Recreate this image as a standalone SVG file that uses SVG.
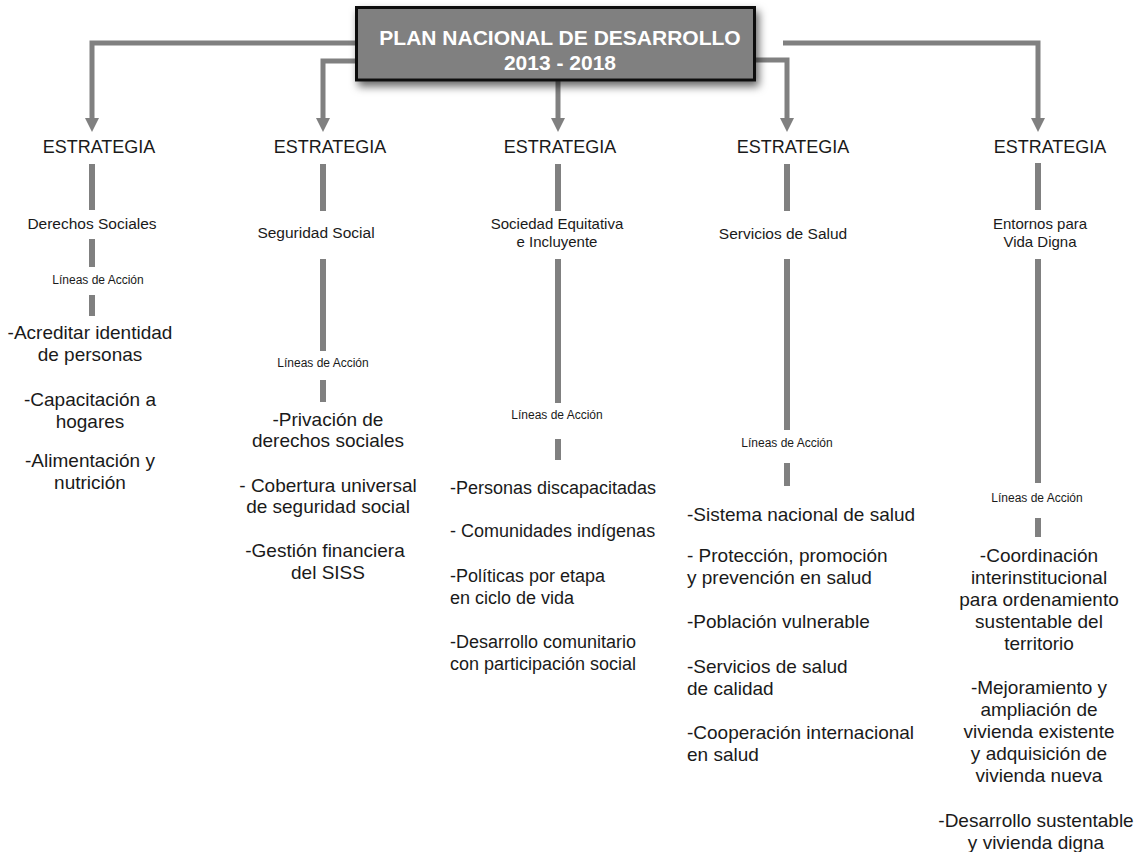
<svg xmlns="http://www.w3.org/2000/svg" width="1142" height="852" viewBox="0 0 1142 852">
  <style>
    .t { font-family: "Liberation Sans", Arial, sans-serif; fill: #1a1a1a; }
    .c { text-anchor: middle; }
    .head { font-size: 18px; }
    .sub { font-size: 15.5px; }
    .la { font-size: 12px; }
    .item { font-size: 19px; }
    .item3 { font-size: 18px; }
    .title { font-family: "Liberation Sans", Arial, sans-serif; font-weight: bold; font-size: 21px; fill: #ffffff; text-anchor: middle; }
    .wire { fill: none; stroke: #808080; stroke-width: 5; }
    .bar { stroke: #808080; stroke-width: 6; }
  </style>
  <defs>
    <marker id="arrow" viewBox="0 0 14 14" refX="0" refY="7" markerWidth="14" markerHeight="14" markerUnits="userSpaceOnUse" orient="auto">
      <path d="M0,0 L14,7 L0,14 z" fill="#808080"/>
    </marker>
    <filter id="shadow" x="-10%" y="-30%" width="125%" height="180%">
      <feDropShadow dx="3" dy="5" stdDeviation="4" flood-color="#000" flood-opacity="0.6"/>
    </filter>
  </defs>

  <rect width="1142" height="852" fill="#ffffff"/>

  <!-- connectors -->
  <g id="connectors">
    <path class="wire" d="M358 43 H92 V118" marker-end="url(#arrow)"/>
    <path class="wire" d="M358 61 H323 V118" marker-end="url(#arrow)"/>
    <path class="wire" d="M558 80 V118" marker-end="url(#arrow)"/>
    <path class="wire" d="M755 60 H787 V118" marker-end="url(#arrow)"/>
    <path class="wire" d="M783 43 H1038 V118" marker-end="url(#arrow)"/>

    <!-- column 1 -->
    <line class="bar" x1="92" y1="164" x2="92" y2="210"/>
    <line class="bar" x1="92" y1="239" x2="92" y2="267"/>
    <line class="bar" x1="92" y1="295" x2="92" y2="316"/>
    <!-- column 2 -->
    <line class="bar" x1="323" y1="164" x2="323" y2="211"/>
    <line class="bar" x1="323" y1="259" x2="323" y2="351"/>
    <line class="bar" x1="323" y1="380" x2="323" y2="402"/>
    <!-- column 3 -->
    <line class="bar" x1="558" y1="164" x2="558" y2="211"/>
    <line class="bar" x1="558" y1="259" x2="558" y2="403"/>
    <line class="bar" x1="558" y1="439" x2="558" y2="460"/>
    <!-- column 4 -->
    <line class="bar" x1="787" y1="164" x2="787" y2="211"/>
    <line class="bar" x1="787" y1="259" x2="787" y2="430"/>
    <line class="bar" x1="787" y1="463" x2="787" y2="486"/>
    <!-- column 5 -->
    <line class="bar" x1="1038" y1="163" x2="1038" y2="210"/>
    <line class="bar" x1="1038" y1="259" x2="1038" y2="483"/>
    <line class="bar" x1="1038" y1="518" x2="1038" y2="537"/>
  </g>

  <!-- root -->
  <g id="plan-nacional">
    <rect x="356.5" y="7.5" width="398" height="72.5" fill="#808080" stroke="#111111" stroke-width="3" filter="url(#shadow)"/>
    <text class="title" x="560" y="45">PLAN NACIONAL DE DESARROLLO</text>
    <text class="title" x="560" y="70">2013 - 2018</text>
  </g>

  <!-- strategy 1 -->
  <g id="estrategia-derechos-sociales" class="t">
    <text class="head c" x="99" y="153">ESTRATEGIA</text>
    <text class="sub c" x="92" y="229">Derechos Sociales</text>
    <text class="la c" x="98" y="284">Líneas de Acción</text>
    <g class="item c">
      <text x="90" y="339">-Acreditar identidad</text>
      <text x="90" y="361">de personas</text>
      <text x="90" y="406">-Capacitación a</text>
      <text x="90" y="428">hogares</text>
      <text x="90" y="467">-Alimentación y</text>
      <text x="90" y="489">nutrición</text>
    </g>
  </g>

  <!-- strategy 2 -->
  <g id="estrategia-seguridad-social" class="t">
    <text class="head c" x="330" y="153">ESTRATEGIA</text>
    <text class="sub c" x="316" y="238">Seguridad Social</text>
    <text class="la c" x="323" y="367">Líneas de Acción</text>
    <g class="item c">
      <text x="328" y="426">-Privación de</text>
      <text x="328" y="447">derechos sociales</text>
      <text x="328" y="492">- Cobertura universal</text>
      <text x="328" y="513">de seguridad social</text>
      <text x="325" y="557">-Gestión financiera</text>
      <text x="328" y="579">del SISS</text>
    </g>
  </g>

  <!-- strategy 3 -->
  <g id="estrategia-sociedad-equitativa" class="t">
    <text class="head c" x="560" y="153">ESTRATEGIA</text>
    <text class="sub c" x="557" y="229" style="font-size:15px">Sociedad Equitativa</text>
    <text class="sub c" x="557" y="247" style="font-size:15px">e Incluyente</text>
    <text class="la c" x="557" y="419">Líneas de Acción</text>
    <g class="item3">
      <text x="450" y="494">-Personas discapacitadas</text>
      <text x="450" y="537">- Comunidades indígenas</text>
      <text x="450" y="582">-Políticas por etapa</text>
      <text x="450" y="604">en ciclo de vida</text>
      <text x="450" y="648">-Desarrollo comunitario</text>
      <text x="450" y="670">con participación social</text>
    </g>
  </g>

  <!-- strategy 4 -->
  <g id="estrategia-servicios-salud" class="t">
    <text class="head c" x="793" y="153">ESTRATEGIA</text>
    <text class="sub c" x="783" y="239">Servicios de Salud</text>
    <text class="la c" x="787" y="447">Líneas de Acción</text>
    <g class="item">
      <text x="687" y="521">-Sistema nacional de salud</text>
      <text x="687" y="562">- Protección, promoción</text>
      <text x="687" y="584">y prevención en salud</text>
      <text x="687" y="628">-Población vulnerable</text>
      <text x="687" y="673">-Servicios de salud</text>
      <text x="687" y="695">de calidad</text>
      <text x="687" y="739">-Cooperación internacional</text>
      <text x="687" y="761">en salud</text>
    </g>
  </g>

  <!-- strategy 5 -->
  <g id="estrategia-entornos-vida-digna" class="t">
    <text class="head c" x="1050" y="153">ESTRATEGIA</text>
    <text class="sub c" x="1040" y="229" style="font-size:15px">Entornos para</text>
    <text class="sub c" x="1040" y="247" style="font-size:15px">Vida Digna</text>
    <text class="la c" x="1037" y="502">Líneas de Acción</text>
    <g class="item c">
      <text x="1039" y="562">-Coordinación</text>
      <text x="1039" y="584">interinstitucional</text>
      <text x="1039" y="606">para ordenamiento</text>
      <text x="1039" y="628">sustentable del</text>
      <text x="1039" y="650">territorio</text>
      <text x="1039" y="694">-Mejoramiento y</text>
      <text x="1039" y="716">ampliación de</text>
      <text x="1039" y="738">vivienda existente</text>
      <text x="1039" y="760">y adquisición de</text>
      <text x="1039" y="782">vivienda nueva</text>
      <text x="1036" y="827">-Desarrollo sustentable</text>
      <text x="1036" y="849">y vivienda digna</text>
    </g>
  </g>
</svg>
